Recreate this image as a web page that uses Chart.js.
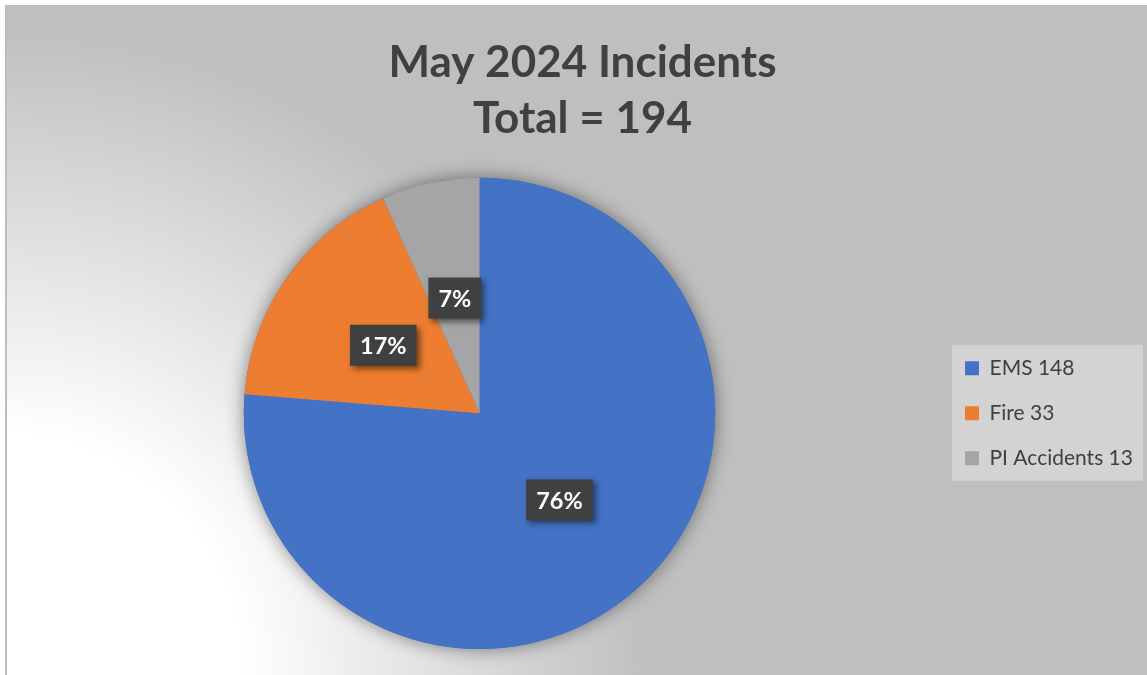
<!DOCTYPE html>
<html>
<head>
<meta charset="utf-8">
<script src="https://cdn.jsdelivr.net/npm/chart.js@4.4.1/dist/chart.umd.min.js"></script>
<style>
  html, body { margin: 0; padding: 0; background: #fff; }
  #wrap { width: 1147px; height: 675px; }
</style>
</head>
<body>
<div id="wrap"><canvas id="incidentChart" width="1147" height="675"></canvas></div>
<script>
// data
var categories = ['EMS', 'Fire', 'PI Accidents'];
var counts = [148, 33, 13];
var sliceColors = ['#4472C4', '#ED7D31', '#A5A5A5'];
var titleText = 'May 2024 Incidents';

var total = counts.reduce(function (a, b) { return a + b; }, 0);

// gray/white backdrop and the legend panel
var backdrop = {
    id: 'backdrop',
    beforeDraw: function (chart) {
        var c = chart.ctx;
        c.save();
        c.fillStyle = '#ffffff';
        c.fillRect(0, 0, chart.width, chart.height);
        var g = c.createRadialGradient(0, chart.height, 0, 0, chart.height, 650);
        g.addColorStop(0, '#ffffff');
        g.addColorStop(0.37, '#ffffff');
        g.addColorStop(1, '#bfbfbf');
        c.fillStyle = g;
        c.fillRect(7, 5, chart.width - 7, chart.height - 5);
        c.fillStyle = '#bdbdbd';
        c.fillRect(5, 5, 2, chart.height - 5);

        var lg = chart.legend;
        var boxes = lg.legendHitBoxes;
        if (boxes && boxes.length) {
            var top = boxes[0].top - 13;
            var last = boxes[boxes.length - 1];
            var bottom = last.top + last.height + 12;
            c.fillStyle = '#d3d3d3';
            c.fillRect(lg.left + 11, top, chart.width - 4 - lg.left - 11, bottom - top);
        }
        c.restore();
    }
};

// fixed legend width so the pie sits where it should
var legendWidth = {
    id: 'legendWidth',
    beforeInit: function (chart) {
        var fit = chart.legend.fit;
        chart.legend.fit = function () {
            fit.call(this);
            this.width = 206;
        };
    }
};

// pie shadow + percentage boxes
var pieDecor = {
    id: 'pieDecor',
    beforeDatasetsDraw: function (chart) {
        var arc = chart.getDatasetMeta(0).data[0];
        var c = chart.ctx;
        c.save();
        c.shadowColor = 'rgba(0,0,0,0.45)';
        c.shadowBlur = 18;
        c.fillStyle = sliceColors[0];
        c.beginPath();
        c.arc(arc.x, arc.y, arc.outerRadius, 0, Math.PI * 2);
        c.fill();
        c.restore();
    },
    afterDatasetsDraw: function (chart) {
        var c = chart.ctx;
        var meta = chart.getDatasetMeta(0);
        c.save();
        c.font = 'bold 23.5px Lato';
        c.textAlign = 'center';
        c.textBaseline = 'middle';
        meta.data.forEach(function (el, i) {
            var pos = el.tooltipPosition();
            var pct = Math.round(counts[i] / total * 100) + '%';
            var w = c.measureText(pct).width + 20;
            var h = 41;
            c.shadowColor = 'rgba(0,0,0,0.5)';
            c.shadowBlur = 6;
            c.shadowOffsetX = 3;
            c.shadowOffsetY = 3;
            c.fillStyle = '#404040';
            c.fillRect(pos.x - w / 2, pos.y - h / 2, w, h);
            c.shadowColor = 'transparent';
            c.fillStyle = '#ffffff';
            c.fillText(pct, pos.x, pos.y + 1);
        });
        c.restore();
    }
};

var ctx = document.getElementById('incidentChart').getContext('2d');

var myChart = new Chart(ctx, {
    type: 'pie',
    data: {
        labels: categories,
        datasets: [{
            data: counts,
            backgroundColor: sliceColors,
            borderWidth: 0
        }]
    },
    options: {
        responsive: false,
        animation: false,
        events: [],
        layout: {
            padding: { top: 5, left: 18, right: 0, bottom: 26 }
        },
        plugins: {
            tooltip: { enabled: false },
            title: {
                display: true,
                text: [titleText, 'Total = ' + total],
                color: '#404040',
                font: { family: 'Lato', size: 44, weight: 'bold', lineHeight: 1.28 },
                padding: { top: 29.5, bottom: 30.5 }
            },
            legend: {
                position: 'right',
                fullSize: false,
                labels: {
                    boxWidth: 14,
                    boxHeight: 14,
                    padding: 24,
                    color: '#404040',
                    font: { family: 'Lato', size: 21 },
                    generateLabels: function (chart) {
                        var items = Chart.overrides.pie.plugins.legend.labels.generateLabels(chart);
                        items.forEach(function (it, i) {
                            it.text = categories[i] + ' ' + counts[i];
                            it.lineWidth = 0;
                        });
                        return items;
                    }
                }
            }
        }
    },
    plugins: [backdrop, legendWidth, pieDecor]
});
</script>
</body>
</html>
